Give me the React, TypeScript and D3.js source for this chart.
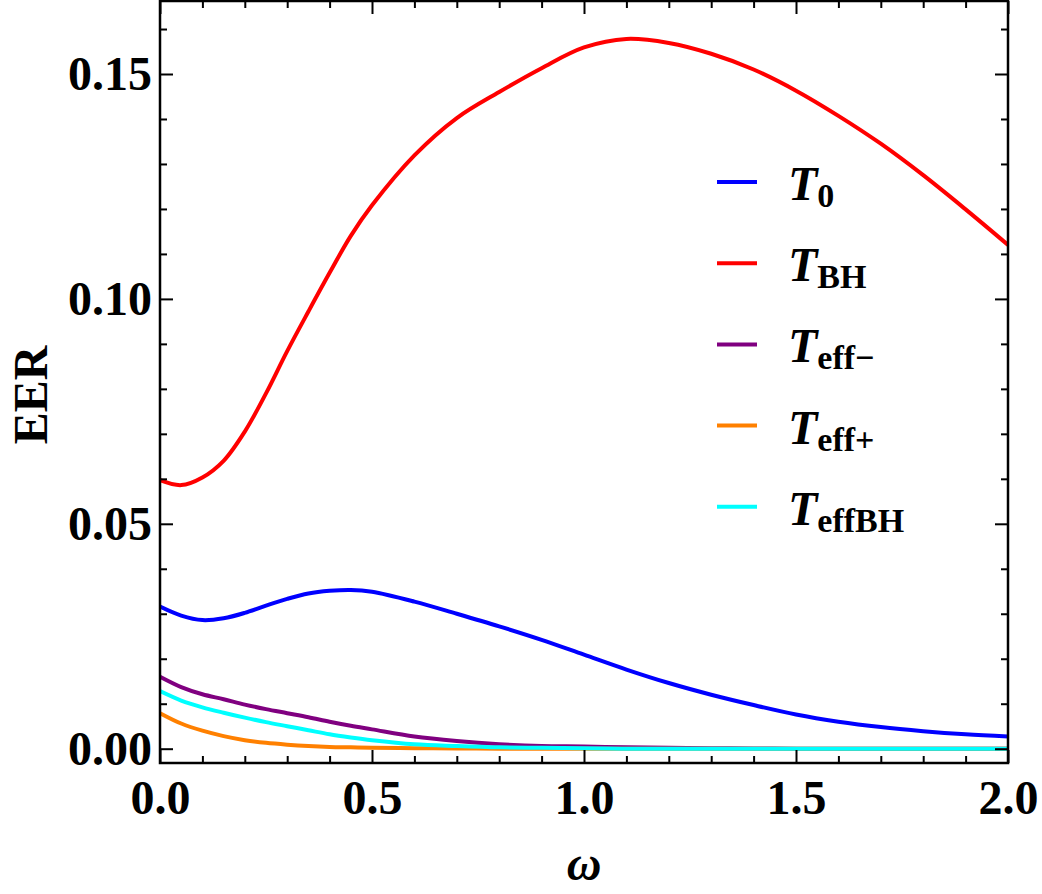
import React, { useEffect, useRef } from 'react';
import * as d3 from 'd3';

const width = 1042;
const height = 894;
const margin = { left: 160, right: 34, top: 1, bottom: 131 };

// omega grid shared by all curves
const omega = [0, 0.05, 0.1, 0.15, 0.2, 0.25, 0.3, 0.35, 0.4, 0.45, 0.5, 0.6, 0.7, 0.8, 0.9, 1.0, 1.1, 1.2, 1.3, 1.4, 1.5, 1.6, 1.7, 1.8, 1.9, 2.0];

const t0 = [0.0316, 0.0296, 0.0286, 0.029, 0.0302, 0.0318, 0.0333, 0.0345, 0.0351, 0.0353, 0.0349, 0.0327, 0.03, 0.0272, 0.0242, 0.0209, 0.0176, 0.0146, 0.012, 0.0097, 0.0076, 0.006, 0.0048, 0.0039, 0.0032, 0.0027];
const tBH = [0.0597, 0.0586, 0.0603, 0.064, 0.0705, 0.079, 0.0884, 0.0972, 0.1058, 0.114, 0.1208, 0.1319, 0.1402, 0.146, 0.1513, 0.1559, 0.1578, 0.1569, 0.1545, 0.151, 0.1463, 0.1407, 0.1345, 0.1275, 0.1199, 0.112];
const tEffMinus = [0.016, 0.0137, 0.0121, 0.011, 0.0098, 0.0088, 0.0079, 0.007, 0.006, 0.0051, 0.0043, 0.0027, 0.0017, 0.001, 0.0006, 0.0005, 0.0003, 0.0002, 0.0001, 0.00005, 0, 0, 0, 0, 0, 0];
const tEffPlus = [0.0079, 0.0056, 0.004, 0.0028, 0.0019, 0.0013, 0.0009, 0.0006, 0.0004, 0.0003, 0.0002, 0.0001, 0.00005, 0, 0, 0, 0, 0, 0, 0, 0, 0, 0, 0, 0, 0];
const tEffBH = [0.0128, 0.0107, 0.0092, 0.008, 0.0069, 0.0059, 0.005, 0.0041, 0.0032, 0.0025, 0.0019, 0.001, 0.0006, 0.0003, 0.0002, 0.0001, 0, 0, 0, 0, 0, 0, 0, 0, 0, 0];

const xMajor = [0, 0.5, 1.0, 1.5, 2.0];
const yMajor = [0, 0.05, 0.1, 0.15];

const series = [
	{ name: 'T0', sub: '0', values: t0, color: '#0000ff' },
	{ name: 'TBH', sub: 'BH', values: tBH, color: '#ff0000' },
	{ name: 'Teff-', sub: 'eff\u2212', values: tEffMinus, color: '#800080' },
	{ name: 'Teff+', sub: 'eff+', values: tEffPlus, color: '#ff8000' },
	{ name: 'TeffBH', sub: 'effBH', values: tEffBH, color: '#00ffff' }
];

const font = '"Liberation Serif", "Times New Roman", serif';

const x = d3.scaleLinear().domain([0, 2]).range([margin.left, width - margin.right]);
const y = d3.scaleLinear().domain([-0.00318, 0.16623]).range([height - margin.bottom, margin.top]);

const xMinor = d3.range(0, 2.0001, 0.1).filter(v => !xMajor.some(m => Math.abs(m - v) < 1e-6));
const yMinor = d3.range(0, 0.1661, 0.01).filter(v => !yMajor.some(m => Math.abs(m - v) < 1e-6));

export default function App() {
	const bottomRef = useRef<SVGGElement>(null);
	const leftRef = useRef<SVGGElement>(null);
	const topRef = useRef<SVGGElement>(null);
	const rightRef = useRef<SVGGElement>(null);
	const bottomMinRef = useRef<SVGGElement>(null);
	const leftMinRef = useRef<SVGGElement>(null);
	const topMinRef = useRef<SVGGElement>(null);
	const rightMinRef = useRef<SVGGElement>(null);

	useEffect(() => {
		const style = (g: any) => {
			g.select('.domain').remove();
			g.selectAll('line').attr('stroke', '#000').attr('stroke-width', 2);
			g.selectAll('text')
				.attr('font-family', font)
				.attr('font-weight', 'bold')
				.attr('font-size', 48)
				.attr('fill', '#000');
		};
		d3.select(bottomRef.current).call(
			d3.axisBottom(x).tickValues(xMajor).tickSize(-13).tickPadding(17).tickFormat(d3.format('.1f')) as any
		).call(style);
		d3.select(leftRef.current).call(
			d3.axisLeft(y).tickValues(yMajor).tickSize(-13).tickPadding(8).tickFormat(d3.format('.2f')) as any
		).call(style);
		d3.select(topRef.current).call(
			d3.axisTop(x).tickValues(xMajor).tickSize(-13).tickFormat(() => '') as any
		).call(style);
		d3.select(rightRef.current).call(
			d3.axisRight(y).tickValues(yMajor).tickSize(-13).tickFormat(() => '') as any
		).call(style);
		d3.select(bottomMinRef.current).call(d3.axisBottom(x).tickValues(xMinor).tickSize(-7).tickFormat(() => '') as any).call(style);
		d3.select(topMinRef.current).call(d3.axisTop(x).tickValues(xMinor).tickSize(-7).tickFormat(() => '') as any).call(style);
		d3.select(leftMinRef.current).call(d3.axisLeft(y).tickValues(yMinor).tickSize(-7).tickFormat(() => '') as any).call(style);
		d3.select(rightMinRef.current).call(d3.axisRight(y).tickValues(yMinor).tickSize(-7).tickFormat(() => '') as any).call(style);
	}, []);

	const line = (vals: number[]) =>
		d3
			.line<number>()
			.x((d, i) => x(omega[i]))
			.y(d => y(d))
			.curve(d3.curveCatmullRom.alpha(0.5))(vals) || '';

	const x0 = margin.left;
	const x1 = width - margin.right;
	const y0 = margin.top;
	const y1 = height - margin.bottom;

	return (
		<svg width={width} height={height} style={{ position: 'absolute', left: 0, top: 0, background: '#fff' }}>
			<rect x={0} y={0} width={width} height={height} fill="#fff" />
			<defs>
				<clipPath id="plotClip">
					<rect x={x0} y={y0} width={x1 - x0} height={y1 - y0} />
				</clipPath>
			</defs>
			<g clipPath="url(#plotClip)">
				{series.map(s => (
					<path key={s.name} d={line(s.values)} fill="none" stroke={s.color} strokeWidth={4} strokeLinejoin="round" />
				))}
			</g>
			<g ref={bottomRef} transform={`translate(0, ${y1})`} />
			<g ref={bottomMinRef} transform={`translate(0, ${y1})`} />
			<g ref={topRef} transform={`translate(0, ${y0})`} />
			<g ref={topMinRef} transform={`translate(0, ${y0})`} />
			<g ref={leftRef} transform={`translate(${x0}, 0)`} />
			<g ref={leftMinRef} transform={`translate(${x0}, 0)`} />
			<g ref={rightRef} transform={`translate(${x1}, 0)`} />
			<g ref={rightMinRef} transform={`translate(${x1}, 0)`} />
			<rect x={x0} y={y0} width={x1 - x0} height={y1 - y0} fill="none" stroke="#000" strokeWidth={2.5} />

			{/* legend */}
			{series.map((s, i) => {
				const ly = 182 + i * 81.2;
				return (
					<g key={s.name}>
						<line x1={717} x2={757} y1={ly} y2={ly} stroke={s.color} strokeWidth={4} />
						<text x={788} y={ly + 18} fontFamily={font} fontWeight="bold" fontSize={48} fill="#000">
							<tspan fontStyle="italic">T</tspan>
							<tspan fontSize={34} dy={7}>{s.sub}</tspan>
						</text>
					</g>
				);
			})}

			<text
				transform={`translate(47, 395) rotate(-90)`}
				textAnchor="middle"
				fontFamily={font}
				fontWeight="bold"
				fontSize={48}
				fill="#000"
			>
				EER
			</text>
			<text x={(x0 + x1) / 2} y={880} textAnchor="middle" fontFamily={font} fontWeight="bold" fontStyle="italic" fontSize={48} fill="#000">
				ω
			</text>
		</svg>
	);
}
